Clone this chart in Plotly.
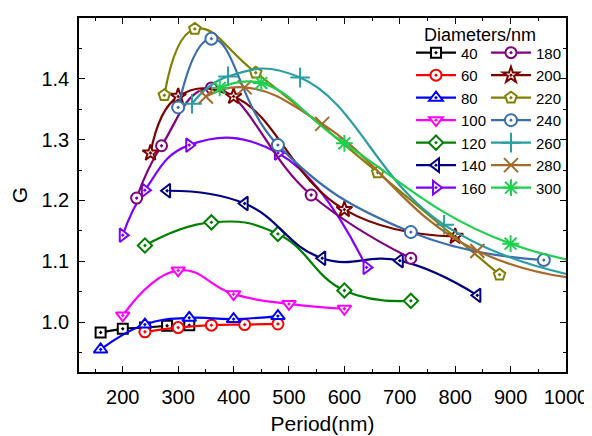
import plotly.graph_objects as go

# ---- data ----
diameters = ["40", "60", "80", "100", "120", "140", "160",
             "180", "200", "220", "240", "260", "280", "300"]

period_40 = [160, 200, 240, 280, 320]
g_40 = [0.983, 0.989, 0.991, 0.994, 0.995]

period_60 = [240, 300, 360, 420, 480]
g_60 = [0.984, 0.991, 0.995, 0.996, 0.997]

period_80 = [160, 240, 320, 400, 480]
g_80 = [0.955, 0.996, 1.007, 1.005, 1.010]

period_100 = [200, 300, 400, 500, 600]
g_100 = [1.011, 1.085, 1.046, 1.030, 1.022]

period_120 = [240, 360, 480, 600, 720]
g_120 = [1.126, 1.164, 1.145, 1.052, 1.035]

period_140 = [280, 420, 560, 700, 840]
g_140 = [1.216, 1.195, 1.105, 1.101, 1.044]

period_160 = [200, 240, 320, 480, 640]
g_160 = [1.143, 1.217, 1.291, 1.278, 1.090]

period_180 = [225, 270, 360, 540, 720]
g_180 = [1.204, 1.290, 1.385, 1.209, 1.105]

period_200 = [250, 300, 400, 600, 800]
g_200 = [1.278, 1.371, 1.371, 1.185, 1.141]

period_220 = [275, 330, 440, 660, 880]
g_220 = [1.373, 1.482, 1.410, 1.246, 1.078]

period_240 = [300, 360, 480, 720, 960]
g_240 = [1.353, 1.466, 1.291, 1.148, 1.102]

period_260 = [325, 390, 520, 780, 1040]
g_260 = [1.359, 1.404, 1.402, 1.160, 1.072]

period_280 = [350, 420, 560, 840, 1120]
g_280 = [1.371, 1.386, 1.326, 1.117, 1.065]

period_300 = [375, 450, 600, 900, 1200]
g_300 = [1.385, 1.393, 1.294, 1.129, 1.085]

x_ticks = [200, 300, 400, 500, 600, 700, 800, 900, 1000]
y_ticks = [1.0, 1.1, 1.2, 1.3, 1.4, 1.5]
y_tick_text = ["1.0", "1.1", "1.2", "1.3", "1.4", "1.5"]

periods = [period_40, period_60, period_80, period_100, period_120, period_140, period_160,
           period_180, period_200, period_220, period_240, period_260, period_280, period_300]
gains = [g_40, g_60, g_80, g_100, g_120, g_140, g_160,
         g_180, g_200, g_220, g_240, g_260, g_280, g_300]

colors = ["#000000", "#FF0000", "#0000FF", "#FF00FF", "#008000", "#000080", "#8000FF",
          "#800080", "#800000", "#808000", "#3A6EAE", "#2A9FA2", "#A8692C", "#1FD050"]
symbols = ["square-dot", "circle-dot", "triangle-up-dot", "triangle-down-dot", "diamond-dot",
           "triangle-left-dot", "triangle-right-dot", "circle-dot", "star-dot", "pentagon-dot",
           "circle-dot", "cross-thin-open", "x-thin-open", "asterisk-open"]
sizes = [10, 11, 12, 12, 11, 12, 12, 11, 12, 12, 12, 14, 14, 14]

FONT = "Arial, Liberation Sans, sans-serif"

fig = go.Figure()
for i, name in enumerate(diameters):
    c = colors[i]
    open_sym = symbols[i].endswith("open")
    fig.add_trace(go.Scatter(
        x=periods[i], y=gains[i], name=name,
        mode="lines+markers",
        line=dict(color=c, width=2.2, shape="spline", smoothing=1.3),
        marker=dict(symbol=symbols[i], size=sizes[i],
                    color=c if open_sym else "white",
                    line=dict(color=c, width=2)),
        legend="legend" if i < 7 else "legend2",
    ))

axis_common = dict(
    showline=True, linecolor="black", linewidth=1.5, mirror="ticks",
    ticks="inside", ticklen=6, tickwidth=1.3, tickcolor="black",
    showgrid=False, zeroline=False, automargin=False,
    tickfont=dict(family=FONT, size=20, color="black"),
)

fig.update_xaxes(
    range=[121, 1000], tickvals=x_ticks,
    minor=dict(ticks="inside", ticklen=3, tickwidth=1.2, tickcolor="black", dtick=50, tick0=0),
    title=dict(text="Period(nm)", font=dict(family=FONT, size=21, color="black"), standoff=10),
    ticklabelstandoff=6,
    **axis_common,
)
fig.update_yaxes(
    range=[0.918, 1.5], tickvals=y_ticks, ticktext=y_tick_text,
    minor=dict(ticks="inside", ticklen=3, tickwidth=1.2, tickcolor="black", dtick=0.05, tick0=0),
    title=dict(text="G", font=dict(family=FONT, size=21, color="black"), standoff=8),
    ticklabelstandoff=4,
    **axis_common,
)

legend_common = dict(
    bgcolor="rgba(0,0,0,0)", borderwidth=0,
    font=dict(family=FONT, size=15, color="black"),
    itemwidth=40, tracegroupgap=0,
    xanchor="left", yanchor="top", orientation="v",
)

# the page body adds an 8px offset, so the figure is drawn 8px smaller
fig.update_layout(
    width=584, height=428,
    margin=dict(l=71, r=26, t=10, b=64, autoexpand=False),
    paper_bgcolor="white", plot_bgcolor="white",
    showlegend=True,
    legend=dict(x=0.6817, y=0.948, **legend_common),
    legend2=dict(x=0.8357, y=0.948, **legend_common),
    annotations=[dict(text="Diameters/nm", xref="paper", yref="paper",
                      x=0.8234, y=0.952, xanchor="center", yanchor="middle",
                      showarrow=False, font=dict(family=FONT, size=18, color="black"))],
)

fig.write_html("out.html")
